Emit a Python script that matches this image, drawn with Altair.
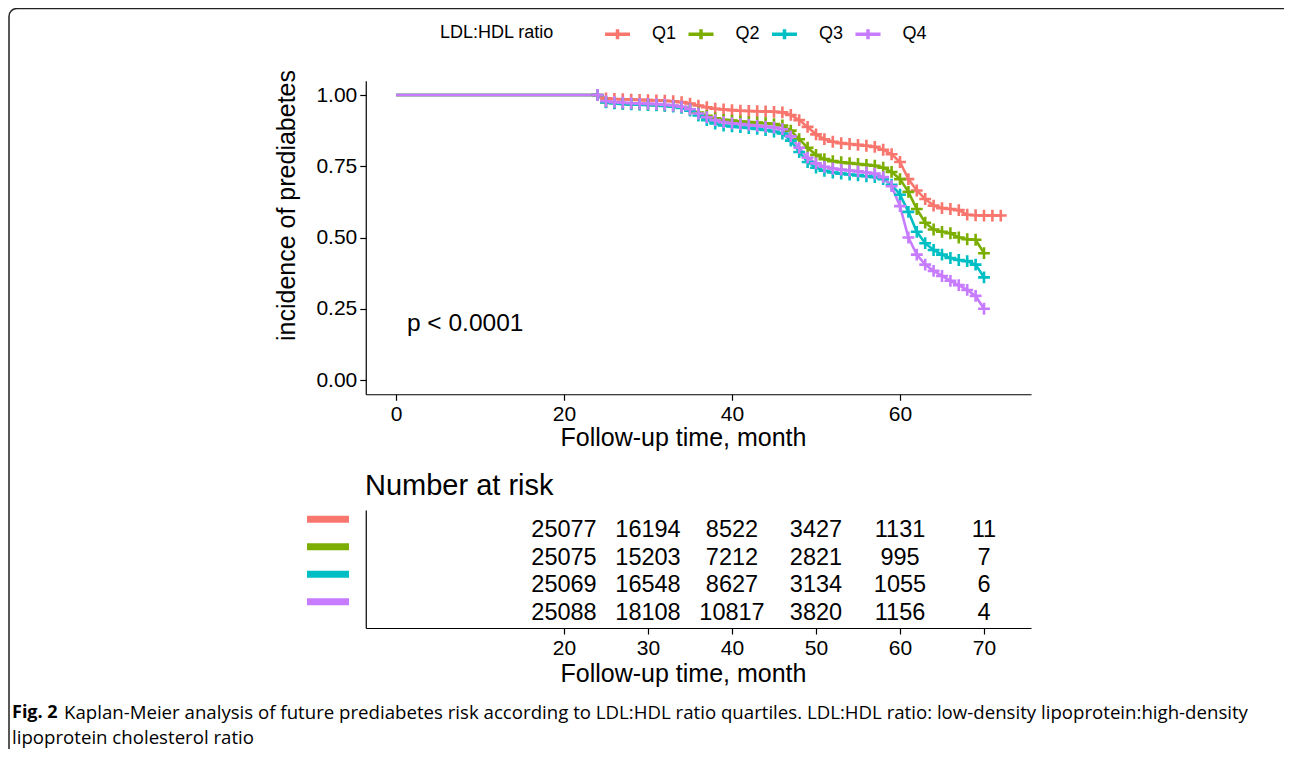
import altair as alt
import pandas as pd

# ---------------- data ----------------
groups = ["Q1", "Q2", "Q3", "Q4"]
colors = ["#F8766D", "#7CAE00", "#00BFC4", "#C77CFF"]

months_q1 = [0, 24, 25, 26, 27, 28, 29, 30, 31, 32, 33, 34, 35, 36, 37, 38, 39, 40,
             41, 42, 43, 44, 45, 46, 47, 48, 49, 50, 51, 52, 53, 54, 55, 56, 57, 58,
             59, 60, 61, 62, 63, 64, 65, 66, 67, 68, 69, 70, 71, 72]
surv_q1 = [1.000, 1.000, 0.988, 0.986, 0.985, 0.984, 0.983, 0.982, 0.981, 0.980, 0.978,
           0.975, 0.970, 0.963, 0.957, 0.952, 0.949, 0.947, 0.945, 0.944, 0.943, 0.942,
           0.941, 0.939, 0.930, 0.912, 0.888, 0.862, 0.845, 0.836, 0.831, 0.828, 0.825,
           0.822, 0.818, 0.808, 0.792, 0.765, 0.705, 0.665, 0.635, 0.612, 0.603, 0.600,
           0.596, 0.580, 0.578, 0.577, 0.577, 0.577]

months_q234 = [0, 24, 25, 26, 27, 28, 29, 30, 31, 32, 33, 34, 35, 36, 37, 38, 39, 40,
               41, 42, 43, 44, 45, 46, 47, 48, 49, 50, 51, 52, 53, 54, 55, 56, 57, 58,
               59, 60, 61, 62, 63, 64, 65, 66, 67, 68, 69, 70]
surv_q2 = [1.000, 1.000, 0.975, 0.972, 0.970, 0.968, 0.967, 0.966, 0.965, 0.963, 0.961,
           0.958, 0.950, 0.938, 0.927, 0.918, 0.913, 0.910, 0.907, 0.905, 0.903, 0.901,
           0.898, 0.893, 0.875, 0.845, 0.815, 0.790, 0.775, 0.768, 0.764, 0.761, 0.758,
           0.755, 0.752, 0.745, 0.730, 0.705, 0.660, 0.600, 0.552, 0.528, 0.520, 0.515,
           0.500, 0.494, 0.492, 0.445]
surv_q3 = [1.000, 1.000, 0.974, 0.971, 0.969, 0.967, 0.966, 0.965, 0.964, 0.962, 0.959,
           0.955, 0.945, 0.928, 0.912, 0.900, 0.893, 0.890, 0.887, 0.884, 0.881, 0.877,
           0.872, 0.865, 0.840, 0.800, 0.765, 0.745, 0.734, 0.728, 0.724, 0.721, 0.718,
           0.715, 0.712, 0.705, 0.685, 0.650, 0.590, 0.520, 0.480, 0.456, 0.440, 0.428,
           0.421, 0.417, 0.405, 0.360]
surv_q4 = [1.000, 1.000, 0.978, 0.975, 0.973, 0.971, 0.970, 0.969, 0.968, 0.966, 0.963,
           0.959, 0.950, 0.935, 0.922, 0.912, 0.905, 0.901, 0.898, 0.895, 0.892, 0.889,
           0.886, 0.880, 0.855, 0.815, 0.780, 0.760, 0.748, 0.742, 0.738, 0.735, 0.732,
           0.728, 0.724, 0.712, 0.680, 0.610, 0.500, 0.440, 0.405, 0.383, 0.365, 0.348,
           0.333, 0.316, 0.295, 0.250]

risk_times = [20, 30, 40, 50, 60, 70]
risk_q1 = [25077, 16194, 8522, 3427, 1131, 11]
risk_q2 = [25075, 15203, 7212, 2821, 995, 7]
risk_q3 = [25069, 16548, 8627, 3134, 1055, 6]
risk_q4 = [25088, 18108, 10817, 3820, 1156, 4]

main_x_ticks = [0, 20, 40, 60]
y_ticks = [0.0, 0.25, 0.5, 0.75, 1.0]

legend_title = "LDL:HDL ratio"
x_title = "Follow-up time, month"
y_title = "incidence of prediabetes"
pval_text = "p < 0.0001"
risk_title = "Number at risk"
caption_bold = "Fig. 2"
caption_line1 = ("Kaplan-Meier analysis of future prediabetes risk according to LDL:HDL ratio "
                 "quartiles. LDL:HDL ratio: low-density lipoprotein:high-density")
caption_line2 = "lipoprotein cholesterol ratio"

# ---------------- tables ----------------
rows = []
for g, ms, ss in [("Q1", months_q1, surv_q1), ("Q2", months_q234, surv_q2),
                  ("Q3", months_q234, surv_q3), ("Q4", months_q234, surv_q4)]:
    for m, s in zip(ms, ss):
        rows.append({"group": g, "month": m, "surv": s})
km = pd.DataFrame(rows)
km["order"] = km["group"].map({g: i for i, g in enumerate(groups)})

risk_rows = []
for g, vals in zip(groups, [risk_q1, risk_q2, risk_q3, risk_q4]):
    for t, v in zip(risk_times, vals):
        risk_rows.append({"group": g, "time": t, "n": str(v)})
risk = pd.DataFrame(risk_rows)

# ---------------- layout ----------------
W, H = 1276, 741
FONT = "Liberation Sans"
x_dom = [-3.6, 75.6]
x_rng = [388 + 8.4 * x_dom[0], 388 + 8.4 * x_dom[1]]
y_dom = [-0.05, 1.05]
y_rng = [372 - 285 * y_dom[0], 372 - 285 * y_dom[1]]
y_left = x_rng[0]

legend = alt.Legend(title=legend_title, orient="none", direction="horizontal",
                    legendX=432, legendY=11.5, titleOrient="left",
                    symbolType="M-1,0H1M0,-0.4V0.4", symbolSize=625,
                    symbolStrokeWidth=3.5, symbolFillColor="transparent",
                    labelOffset=20, columnPadding=4.5, titlePadding=48,
                    titleFontSize=18, labelFontSize=18,
                    titleFontWeight="normal", titleFont=FONT, labelFont=FONT,
                    titleColor="black", labelColor="black")


def color_enc():
    return alt.Color("group:N", scale=alt.Scale(domain=groups, range=colors), legend=legend)


xs_main = alt.X("month:Q", scale=alt.Scale(domain=x_dom, range=x_rng, nice=False, zero=False),
                axis=alt.Axis(orient="bottom", offset=y_rng[0] - H, values=main_x_ticks,
                              title=x_title, titleX=675, titleY=43.5, titleBaseline="middle",
                              titleAlign="center"))
ys_main = alt.Y("surv:Q", scale=alt.Scale(domain=y_dom, range=y_rng, nice=False, zero=False),
                axis=alt.Axis(orient="left", offset=-y_left, values=y_ticks, format=".2f",
                              title=y_title, titleX=-79, titleY=197, titleBaseline="middle",
                              titleAlign="center", titleAngle=270))

km_lines = alt.Chart(km).mark_line(strokeWidth=2.6, interpolate="linear").encode(
    x=xs_main, y=ys_main, color=color_enc(), detail="group:N", order="month:Q")

cross_path = "M-1,0H1M0,-1V1"
km_cross = alt.Chart(km).transform_filter("datum.month >= 24").mark_point(
    shape=cross_path, filled=False, size=140, strokeWidth=2.6, opacity=1).encode(
    x=alt.X("month:Q"), y=alt.Y("surv:Q"), color=color_enc(), order="order:Q")

pval = alt.Chart(pd.DataFrame({"t": [pval_text]})).mark_text(
    align="left", baseline="middle", fontSize=24.5, font=FONT, color="black").encode(
    x=alt.datum(1.3), y=alt.datum(0.196), text="t:N")

km_layer = alt.layer(km_lines, km_cross, pval)

# risk table
risk_y = alt.Scale(domain=groups, range=[502, 620], padding=0.65, type="point")
risk_text = alt.Chart(risk).mark_text(fontSize=23.5, font=FONT, color="black",
                                      baseline="middle", align="center", dy=2.5).encode(
    x=alt.X("time:Q", scale=alt.Scale(domain=x_dom, range=x_rng, nice=False, zero=False),
            axis=alt.Axis(orient="bottom", offset=620 - H, values=risk_times,
                          title=x_title, titleX=675, titleY=45, titleBaseline="middle",
                          titleAlign="center")),
    y=alt.Y("group:N", scale=risk_y,
            axis=alt.Axis(orient="left", offset=-y_left, labels=False, ticks=False,
                          title=None, domain=True)),
    text="n:N")

risk_bars = alt.Chart(pd.DataFrame({"group": groups})).mark_rule(
    strokeWidth=7, strokeCap="butt", yOffset=-8.5).encode(
    x=alt.value(299), x2=alt.value(341),
    y=alt.Y("group:N", scale=risk_y), color=color_enc())

risk_head = alt.Chart(pd.DataFrame({"t": [risk_title]})).mark_text(
    align="left", baseline="middle", fontSize=29, font=FONT, color="black").encode(
    x=alt.value(357), y=alt.value(478), text="t:N")

risk_layer = alt.layer(risk_text, risk_bars, risk_head)

# frame and caption
frame = alt.Chart(pd.DataFrame({"a": [0]})).mark_rect(
    filled=False, stroke="#222222", strokeWidth=1.5, cornerRadius=8).encode(
    x=alt.value(1), x2=alt.value(1310), y=alt.value(0.5), y2=alt.value(760))

CAP_FONT = "Open Sans"
cap_bold = alt.Chart(pd.DataFrame({"t": [caption_bold]})).mark_text(
    align="left", baseline="middle", fontSize=18, font=CAP_FONT, fontWeight="bold",
    color="black").encode(x=alt.value(4), y=alt.value(705), text="t:N")
cap1 = alt.Chart(pd.DataFrame({"t": [caption_line1]})).mark_text(
    align="left", baseline="middle", fontSize=18.65, font=CAP_FONT, color="black").encode(
    x=alt.value(56), y=alt.value(705), text="t:N")
cap2 = alt.Chart(pd.DataFrame({"t": [caption_line2]})).mark_text(
    align="left", baseline="middle", fontSize=18.65, font=CAP_FONT, color="black").encode(
    x=alt.value(4), y=alt.value(730), text="t:N")

chart = alt.layer(frame, km_layer, risk_layer, cap_bold, cap1, cap2).resolve_scale(
    x="independent", y="independent"
).properties(
    width=W, height=H, padding=0, autosize=alt.AutoSizeParams(type="none"),
    background="white"
).configure_view(stroke=None).configure_axis(
    grid=False, domainColor="black", domainWidth=1.2, tickColor="black", tickWidth=1.2,
    tickSize=6, labelColor="black", labelFontSize=21, labelFont=FONT, titleFont=FONT,
    titleFontSize=25, titleFontWeight="normal", titleColor="black", labelPadding=3
)

chart.save("out.html", embed_options={"renderer": "svg", "actions": False})
